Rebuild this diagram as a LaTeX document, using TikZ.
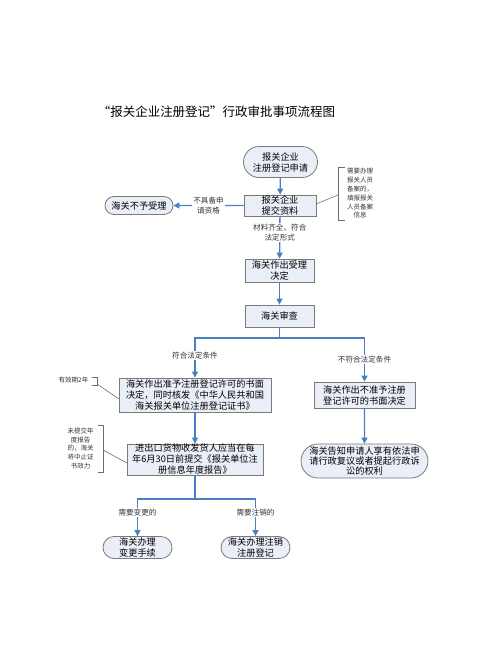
\documentclass[tikz,border=0pt]{standalone}
\usepackage{fontspec}
\setmainfont{Noto Sans CJK SC}
\usetikzlibrary{arrows.meta,shapes.misc}
\definecolor{boxfill}{HTML}{E9EEF7}
\definecolor{boxline}{HTML}{7A7A7A}
\definecolor{flowblue}{HTML}{4A7EC0}
\definecolor{notegray}{HTML}{6E6E6E}
\begin{document}
\begin{tikzpicture}[x=1pt,y=-1pt,
  box/.style={draw=boxline, fill=boxfill, line width=0.8pt, align=center, inner sep=0pt,
    font=\fontsize{9.2}{11}\selectfont},
  oval/.style={box, rounded rectangle},
  flow/.style={draw=flowblue, line width=1.3pt, -{Triangle[length=6pt,width=6pt]}},
  flowline/.style={draw=flowblue, line width=1.3pt},
  lbl/.style={fill=white, inner sep=1pt, align=center, text=black!80,
    font=\fontsize{7.6}{9.5}\selectfont},
  note/.style={align=center, inner sep=0pt, text=black!80,
    font=\fontsize{6.5}{8.8}\selectfont},
  bracket/.style={draw=notegray, line width=0.7pt},
  leader/.style={draw=notegray, line width=0.6pt}]
\useasboundingbox (0,0) rectangle (500,657);

% title
\node[inner sep=0pt, font=\fontsize{12.5}{14}\selectfont] (title) at (216.5,112)
  {“报关企业注册登记”行政审批事项流程图};

% nodes
\node[oval, minimum width=74, minimum height=31] (start) at (280.5,162)
  {报关企业\\注册登记申请};
\node[box, minimum width=72, minimum height=21] (submit) at (280,205.5)
  {报关企业\\提交资料};
\node[oval, minimum width=68, minimum height=18] (reject) at (139,205.5)
  {海关不予受理};
\node[box, minimum width=69, minimum height=23] (accept) at (279.5,270.5)
  {海关作出受理\\决定};
\node[box, minimum width=69, minimum height=22] (review) at (279.5,316)
  {海关审查};
\node[box, minimum width=152, minimum height=34] (approve) at (195,395)
  {海关作出准予注册登记许可的书面\\决定，同时核发《中华人民共和国\\海关报关单位注册登记证书》};
\node[box, minimum width=101, minimum height=26] (deny) at (364.5,395)
  {海关作出不准予注册\\登记许可的书面决定};
\node[box, minimum width=136, minimum height=31] (annual) at (195,459.5)
  {进出口货物收发货人应当在每\\年6月30日前提交《报关单位注\\册信息年度报告》};
\node[oval, minimum width=122, minimum height=34, font=\fontsize{9.2}{10.3}\selectfont] (inform) at (364.5,461)
  {海关告知申请人享有依法申\\请行政复议或者提起行政诉\\讼的权利};
\node[oval, minimum width=69, minimum height=22] (change) at (137.5,547.5)
  {海关办理\\变更手续};
\node[oval, minimum width=69, minimum height=22] (cancel) at (255.5,547.5)
  {海关办理注销\\注册登记};

% notes
\node[note] (note1) at (360,193.5)
  {需要办理\\报关人员\\备案的，\\填报报关\\人员备案\\信息};
\node[note] (note2) at (73.5,380.5) {有效期2年};
\node[note] (note3) at (80.5,448.5)
  {未提交年\\度报告\\的，海关\\将中止证\\书效力};

% brackets
\coordinate (b1t) at (345,167); \coordinate (b1tc) at (338,167);
\coordinate (b1bc) at (338,220); \coordinate (b1b) at (345,220);
\coordinate (b1m) at (338,195);
\draw[bracket] (b1t) -- (b1tc) -- (b1bc) -- (b1b);
\coordinate (b2t) at (92,377); \coordinate (b2tc) at (97,377);
\coordinate (b2bc) at (97,385); \coordinate (b2b) at (92,385);
\coordinate (b2m) at (97,384);
\draw[bracket] (b2t) -- (b2tc) -- (b2bc) -- (b2b);
\coordinate (b3t) at (98,425); \coordinate (b3tc) at (103,425);
\coordinate (b3bc) at (103,472); \coordinate (b3b) at (98,472);
\coordinate (b3m) at (103,450);
\draw[bracket] (b3t) -- (b3tc) -- (b3bc) -- (b3b);

% leaders
\coordinate (sE) at (316,204);
\draw[leader] (sE) -- (b1m);
\coordinate (apW) at (119,399);
\draw[leader] (b2m) -- (apW);
\coordinate (anW) at (127,463);
\draw[leader] (b3m) -- (anW);

% flow
\draw[flow] (start) -- (submit);
\draw[flow] (submit) -- node[lbl]{不具备申\\请资格} (reject);
\draw[flow] (submit) -- node[lbl, pos=0.38]{材料齐全、符合\\法定形式} (accept);
\draw[flow] (accept) -- (review);
\coordinate (bj) at (279.5,338);
\draw[flowline] (review.south) -- (bj);
\draw[flow] (bj) -| node[lbl, pos=0.72]{符合法定条件} (approve.north);
\draw[flow] (bj) -| node[lbl, pos=0.75]{不符合法定条件} (deny.north);
\draw[flow] (approve) -- (annual);
\draw[flow] (deny) -- (inform);
\coordinate (aj) at (195,499);
\draw[flowline] (annual.south) -- (aj);
\draw[flow] (aj) -| node[lbl, pos=0.68]{需要变更的} (change.north);
\draw[flow] (aj) -| node[lbl, pos=0.68]{需要注销的} (cancel.north);
\end{tikzpicture}
\end{document}
